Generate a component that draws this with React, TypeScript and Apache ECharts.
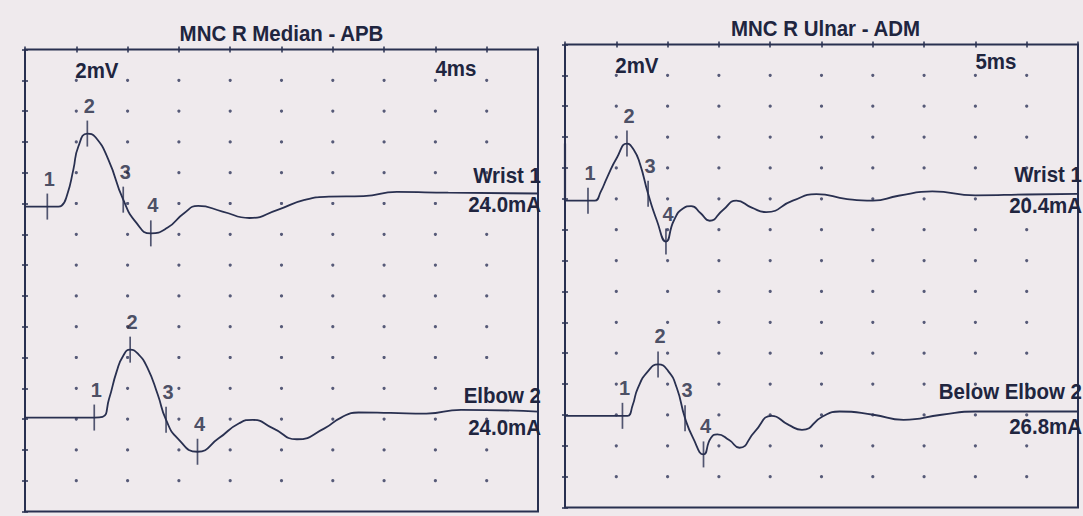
import React, { useEffect, useRef } from "react";
import * as echarts from "echarts";

// ---------- text ----------
const panelTitles = ["MNC R Median - APB", "MNC R Ulnar - ADM"];
const gainLabels = ["2mV", "2mV"];
const sweepLabels = ["4ms", "5ms"];
const traceNames = [
  ["Wrist 1", "Elbow 2"],
  ["Wrist 1", "Below Elbow 2"],
];
const stimLabels = [
  ["24.0mA", "24.0mA"],
  ["20.4mA", "26.8mA"],
];
const markerNumbers = ["1", "2", "3", "4"];

// ---------- scales ----------
const sweepMsPerDiv = [4, 5];
const mvPerDiv = 2;
const xDivisions = 10;
const yDivisions = 15;

// ---------- traces (ms, mV relative to the trace's own baseline) ----------
const leftWristT = [0, 1.74, 2.6, 2.85, 3.3, 3.77, 4.16, 4.86, 5.5, 6.5, 7.66, 8.69, 9.81, 11.1, 12.4, 13.5, 15.4, 17.5, 19.7, 21.8, 23.7, 26.4, 29.0, 33.0, 40];
const leftWristV = [0, 0, 0, 0.05, 0.8, 2.4, 3.9, 4.74, 4.5, 3.05, 0.45, -1.06, -1.74, -1.38, -0.43, 0.04, -0.32, -0.74, -0.21, 0.43, 0.64, 0.68, 0.95, 0.9, 0.85];
const leftWristMarkT = [1.74, 4.86, 7.66, 9.81];
const leftWristMarkV = [0, 4.74, 0.45, -1.74];

const leftElbowT = [0, 5.4, 6.05, 6.55, 7.15, 7.65, 8.2, 8.85, 9.55, 10.35, 11.0, 11.9, 13.45, 15.1, 16.7, 17.75, 19.35, 21.2, 23.35, 24.65, 26.0, 28.5, 31.3, 34.0, 40];
const leftElbowV = [0, 0, 0.05, 1.2, 3.0, 4.0, 4.41, 4.1, 3.22, 1.5, -0.15, -1.35, -2.22, -1.35, -0.37, -0.15, -0.7, -1.41, -0.7, 0, 0.33, 0.3, 0.26, 0.5, 0.39];
const leftElbowMarkT = [5.4, 8.2, 11.0, 13.45];
const leftElbowMarkV = [0, 4.41, -0.15, -2.22];

// stimulus artifact at the start of the ulnar wrist sweep
const rightWristArtifactT = [0, 0];
const rightWristArtifactV = [3.7, 0];
const rightWristT = [0, 2.24, 2.9, 3.5, 4.1, 5.07, 6.04, 6.7, 7.3, 8.1, 8.96, 9.84, 10.6, 11.5, 12.3, 13.2, 14.1, 15.4, 16.7, 18.2, 19.6, 22.2, 24.5, 27.5, 30.0, 32.5, 35.8, 40, 45, 50];
const rightWristV = [0, 0, 0, 0.6, 1.5, 2.8, 3.7, 3.3, 2.4, 0.45, -1.3, -2.65, -1.3, -0.5, -0.35, -0.8, -1.3, -0.6, 0.0, -0.45, -0.74, 0, 0.43, 0.1, 0, 0.32, 0.6, 0.35, 0.4, 0.44];
const rightWristMarkT = [2.24, 6.04, 8.1, 9.84];
const rightWristMarkV = [0, 3.7, 0.45, -2.65];

const rightElbowT = [0, 5.6, 6.1, 6.6, 7.1, 8.1, 9.07, 10.06, 10.9, 11.7, 12.5, 13.5, 14.2, 14.85, 16.0, 17.0, 18.5, 20.15, 21.8, 23.1, 25.1, 26.76, 30.06, 33.0, 36.7, 40, 50];
const rightElbowV = [0, 0, 0, 0.7, 1.8, 2.9, 3.33, 2.9, 1.8, -0.15, -1.46, -2.5, -1.46, -1.2, -1.57, -2.07, -1.02, 0, -0.59, -0.91, -0.04, 0.28, 0.07, -0.26, 0.07, 0.28, 0.28];
const rightElbowMarkT = [5.6, 9.07, 11.7, 13.5];
const rightElbowMarkV = [0, 3.33, -0.15, -2.5];

// ---------- layout ----------
const BG = "#efeaed";
const INK = "#293050";
const TEXT = "#20253f";
const FONT = "'Liberation Sans', Arial, sans-serif";
const panels = [
  { left: 25, top: 49.5, width: 513, height: 462, baselines: [-10.2, -23.9] },
  { left: 565, top: 44.5, width: 513, height: 463, baselines: [-10.12, -24.06] },
];

const traces = [
  [
    { t: leftWristT, v: leftWristV, mt: leftWristMarkT, mv: leftWristMarkV, at: [] as number[], av: [] as number[] },
    { t: leftElbowT, v: leftElbowV, mt: leftElbowMarkT, mv: leftElbowMarkV, at: [] as number[], av: [] as number[] },
  ],
  [
    { t: rightWristT, v: rightWristV, mt: rightWristMarkT, mv: rightWristMarkV, at: rightWristArtifactT, av: rightWristArtifactV },
    { t: rightElbowT, v: rightElbowV, mt: rightElbowMarkT, mv: rightElbowMarkV, at: [] as number[], av: [] as number[] },
  ],
];

function buildOption() {
  const grid: any[] = [];
  const xAxis: any[] = [];
  const yAxis: any[] = [];
  const series: any[] = [];
  const graphic: any[] = [];
  const tick = { show: true, inside: true, length: 3, lineStyle: { color: INK, width: 1.5 } };

  panels.forEach((p, pi) => {
    grid.push({
      left: p.left, top: p.top, width: p.width, height: p.height,
      show: true, borderColor: INK, borderWidth: 2, backgroundColor: "transparent",
    });
    const ms = sweepMsPerDiv[pi];
    const xMax = ms * xDivisions;
    const yMin = -mvPerDiv * yDivisions;
    ["bottom", "top"].forEach((pos) => {
      xAxis.push({
        type: "value", gridIndex: pi, position: pos, min: 0, max: xMax, interval: ms,
        axisLine: { show: false }, axisTick: tick, axisLabel: { show: false }, splitLine: { show: false },
      });
    });
    ["left", "right"].forEach((pos) => {
      yAxis.push({
        type: "value", gridIndex: pi, position: pos, min: yMin, max: 0, interval: mvPerDiv,
        axisLine: { show: false }, axisTick: tick, axisLabel: { show: false }, splitLine: { show: false },
      });
    });
    const xi = pi * 2;
    const yi = pi * 2;

    // grid dots
    const dots: number[][] = [];
    for (let c = 1; c < xDivisions; c++) {
      for (let r = 1; r < yDivisions; r++) dots.push([c * ms, -r * mvPerDiv]);
    }
    series.push({
      type: "scatter", xAxisIndex: xi, yAxisIndex: yi, data: dots, symbolSize: 3.2,
      itemStyle: { color: "#30365a" }, silent: true, z: 1,
    });

    traces[pi].forEach((tr, ti) => {
      const base = p.baselines[ti];
      if (tr.at.length) {
        series.push({
          type: "line", xAxisIndex: xi, yAxisIndex: yi,
          data: tr.at.map((t, i) => [t, tr.av[i] + base]),
          showSymbol: false, lineStyle: { color: INK, width: 2.2 }, z: 3,
        });
      }
      series.push({
        type: "line", xAxisIndex: xi, yAxisIndex: yi,
        data: tr.t.map((t, i) => [t, tr.v[i] + base]),
        showSymbol: false, smooth: 0.55,
        lineStyle: { color: INK, width: 1.8 }, z: 3,
      });
      series.push({
        type: "scatter", xAxisIndex: xi, yAxisIndex: yi,
        data: tr.mt.map((t, i) => ({ value: [t, tr.mv[i] + base], name: markerNumbers[i] })),
        symbol: "rect", symbolSize: [1.7, 26],
        itemStyle: { color: INK }, z: 4,
        label: {
          show: true, position: "top", distance: 5, offset: [2, 0],
          formatter: (d: any) => d.name, fontSize: 20, fontWeight: "bold",
          fontFamily: FONT, color: TEXT,
        },
      });
    });

    const divW = p.width / xDivisions;
    const right = p.left + p.width;
    const txt = (text: string, x: number, y: number, align: string, size = 22) => ({
      type: "text", x, y, scaleX: 0.93,
      style: { text, fontSize: size, fontWeight: "bold", fontFamily: FONT, fill: TEXT, align, verticalAlign: "middle" },
      z: 10,
    });
    graphic.push(txt(panelTitles[pi], p.left + p.width / 2 + (pi === 1 ? 4 : 0), pi === 0 ? 34 : 29, "center", 22));
    graphic.push(txt(gainLabels[pi], p.left + divW - 1, pi === 0 ? 71 : 66, "left"));
    graphic.push(txt(sweepLabels[pi], p.left + divW * 8, pi === 0 ? 68.5 : 62, "left"));
    const lx = pi === 0 ? right + 3 : 1082;
    graphic.push(txt(traceNames[pi][0], lx, pi === 0 ? 176 : 175, "right"));
    graphic.push(txt(stimLabels[pi][0], lx, pi === 0 ? 205 : 206, "right"));
    graphic.push(txt(traceNames[pi][1], lx, pi === 0 ? 396 : 392, "right"));
    graphic.push(txt(stimLabels[pi][1], lx, pi === 0 ? 428 : 427, "right"));
  });

  return {
    animation: false,
    backgroundColor: BG,
    grid, xAxis, yAxis, series, graphic,
  };
}

export default function App() {
  const ref = useRef<HTMLDivElement>(null);
  useEffect(() => {
    if (!ref.current) return;
    const chart = echarts.init(ref.current, undefined, { renderer: "svg" });
    chart.setOption(buildOption() as any);
    return () => chart.dispose();
  }, []);
  return (
    <div
      ref={ref}
      style={{ position: "fixed", left: 0, top: 0, width: 1083, height: 516 }}
    />
  );
}
